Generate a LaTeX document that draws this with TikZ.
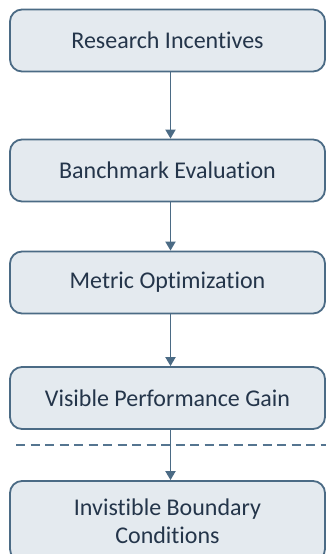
\documentclass[tikz,border=0pt]{standalone}
\usepackage{fontspec}
\setmainfont{Carlito}[Ligatures=NoCommon]
\usetikzlibrary{arrows.meta}
\definecolor{boxfill}{HTML}{E4EAEF}
\definecolor{boxline}{HTML}{4B6B85}
\definecolor{boxtext}{HTML}{24354A}
\definecolor{sepline}{HTML}{557590}
\tikzset{
  stage/.style={draw=boxline, line width=1.8pt, fill=boxfill, rounded corners=12pt,
    minimum width=315pt, minimum height=62pt, inner sep=0pt, align=center,
    text=boxtext, font=\fontsize{24pt}{28pt}\selectfont},
  flow/.style={draw=boxline, line width=1.8pt, -{Triangle[length=9pt,width=10pt]}}
}
\begin{document}
\begin{tikzpicture}[x=1pt,y=1pt]
  \useasboundingbox (0,0) rectangle (326,-554);
  \fill[white] (0,0) rectangle (326,-554);
  \node[stage] (s1) at (167.5,-40.5) {Research Incentives};
  \node[stage] (s2) at (167.5,-170.5) {Banchmark Evaluation};
  \node[stage] (s3) at (167.5,-282.5) {Metric Optimization};
  \node[stage] (s4) at (167.5,-398) {Visible Performance Gain};
  \node[stage, minimum height=80pt] (s5) at (167.5,-521) {Invistible Boundary\\Conditions};
  \coordinate (dl) at (16,-445);
  \coordinate (dr) at (330,-445);
  \draw[sepline, line width=1.8pt, dash pattern=on 9pt off 5.5pt] (dl) -- (dr);
  \foreach \a/\b in {s1/s2, s2/s3, s3/s4, s4/s5}
    \draw[flow] ([xshift=3pt]\a.south) -- ([xshift=3pt]\b.north);
\end{tikzpicture}
\end{document}
